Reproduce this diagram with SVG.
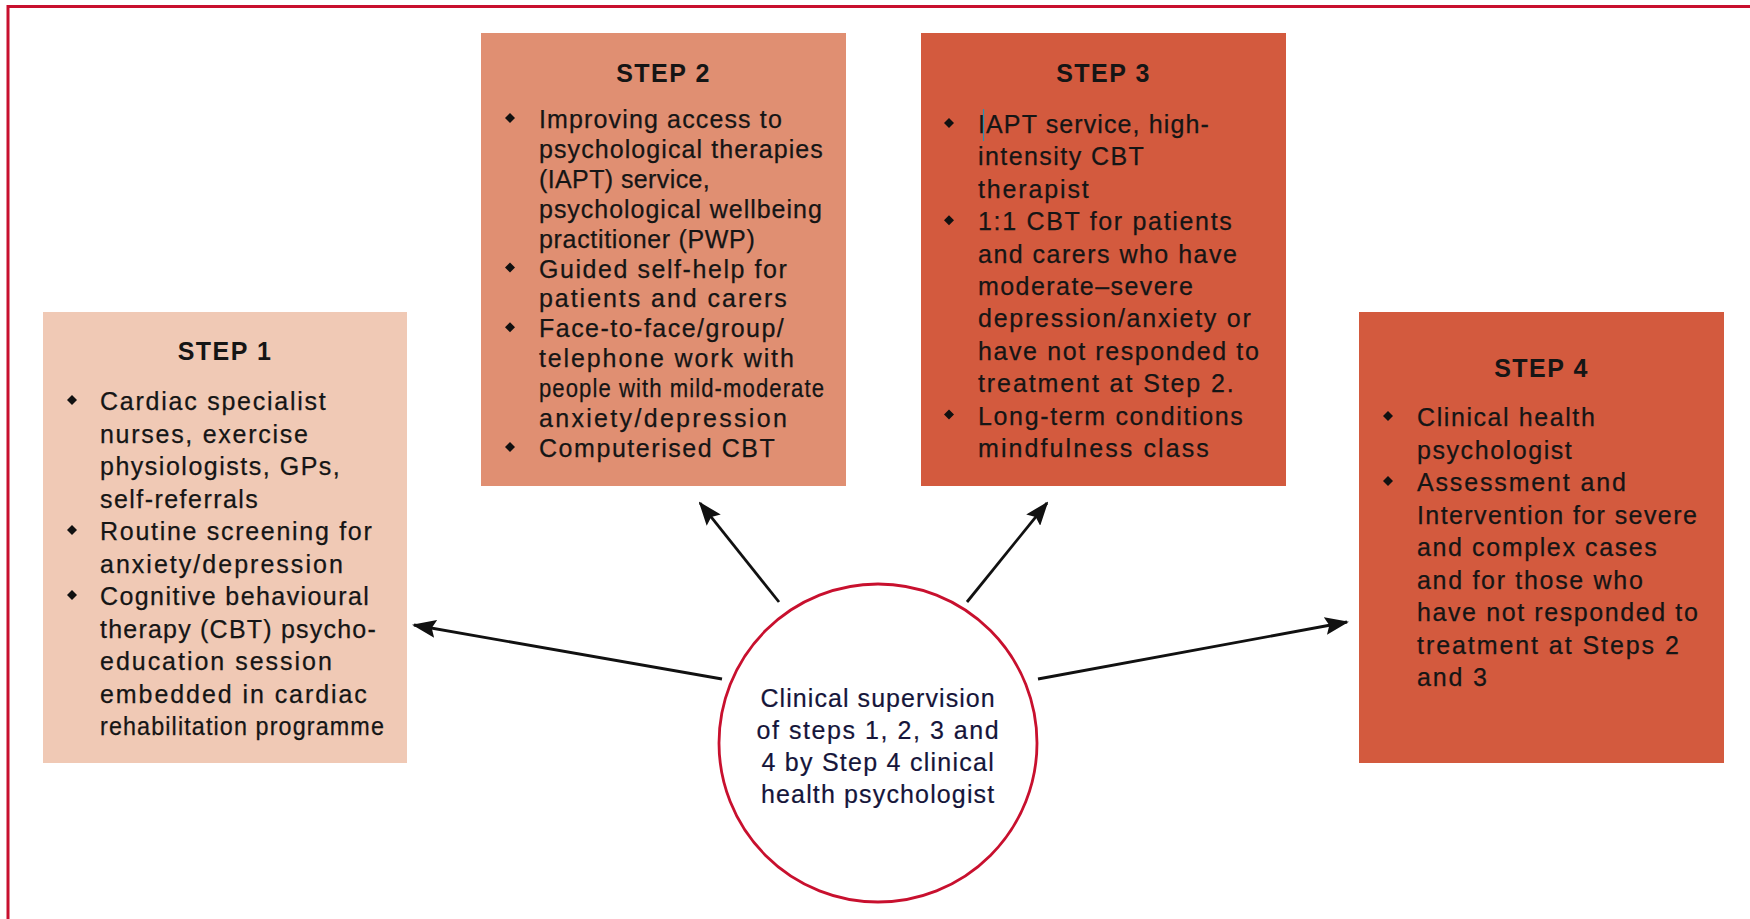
<svg xmlns="http://www.w3.org/2000/svg" width="1750" height="919" viewBox="0 0 1750 919">
<style>
.t{font-family:"Liberation Sans",Arial,sans-serif;font-size:25px;letter-spacing:1.2px;fill:#151515;stroke:#151515;stroke-width:0.25}
.h{font-family:"Liberation Sans",Arial,sans-serif;font-size:25px;font-weight:bold;letter-spacing:1.5px;fill:#151515;text-anchor:middle}
.c{font-family:"Liberation Sans",Arial,sans-serif;font-size:25px;letter-spacing:0.8px;fill:#15153a;stroke:#15153a;stroke-width:0.2;text-anchor:middle}
.conn{stroke:#111;stroke-width:2.8;fill:none;marker-end:url(#ah)}
</style>
<defs>
<marker id="ah" markerUnits="userSpaceOnUse" markerWidth="24" markerHeight="18" refX="22" refY="9" orient="auto" viewBox="0 0 24 18">
<path d="M0,0 L24,9 L0,18 L4,9 z" fill="#111"/>
</marker>
<path id="b" d="M0,-5 L5,0 L0,5 L-5,0 z" fill="#111"/>
</defs>
<rect width="1750" height="919" fill="#fff"/>
<g id="frame" stroke="#C8102E" stroke-width="3" fill="none">
<line x1="7" y1="6.5" x2="1750" y2="6.5"/>
<line x1="8" y1="5" x2="8" y2="919"/>
</g>
<g id="connectors">
<line class="conn" x1="779" y1="602" x2="700" y2="503"/>
<line class="conn" x1="967" y1="602" x2="1047" y2="503"/>
<line class="conn" x1="722" y1="679" x2="414" y2="625"/>
<line class="conn" x1="1038" y1="679" x2="1347" y2="622"/>
</g>
<g id="step1">
<rect x="43" y="312" width="364" height="451" fill="#F0C9B5"/>
<text class="h" x="225" y="360">STEP 1</text>
<use href="#b" x="72" y="400"/><use href="#b" x="72" y="530"/><use href="#b" x="72" y="595"/>
<text class="t" x="100" y="410" textLength="227" lengthAdjust="spacing">Cardiac specialist</text>
<text class="t" x="100" y="442.5" textLength="209" lengthAdjust="spacing">nurses, exercise</text>
<text class="t" x="100" y="475" textLength="241" lengthAdjust="spacing">physiologists, GPs,</text>
<text class="t" x="100" y="507.5" textLength="159" lengthAdjust="spacing">self-referrals</text>
<text class="t" x="100" y="540" textLength="273" lengthAdjust="spacing">Routine screening for</text>
<text class="t" x="100" y="572.5" textLength="244" lengthAdjust="spacing">anxiety/depression</text>
<text class="t" x="100" y="605" textLength="270" lengthAdjust="spacing">Cognitive behavioural</text>
<text class="t" x="100" y="637.5" textLength="277" lengthAdjust="spacing">therapy (CBT) psycho-</text>
<text class="t" x="100" y="670" textLength="233" lengthAdjust="spacing">education session</text>
<text class="t" x="100" y="702.5" textLength="268" lengthAdjust="spacing">embedded in cardiac</text>
<text class="t" x="100" y="735" textLength="285" lengthAdjust="spacingAndGlyphs">rehabilitation programme</text>
</g>
<g id="step2">
<rect x="481" y="33" width="365" height="453" fill="#E08F72"/>
<text class="h" x="663.5" y="82">STEP 2</text>
<use href="#b" x="510" y="118"/><use href="#b" x="510" y="267.5"/><use href="#b" x="510" y="327.3"/><use href="#b" x="510" y="447"/>
<text class="t" x="539" y="128" textLength="244" lengthAdjust="spacing">Improving access to</text>
<text class="t" x="539" y="157.9" textLength="285" lengthAdjust="spacing">psychological therapies</text>
<text class="t" x="539" y="187.8" textLength="172" lengthAdjust="spacing">(IAPT) service,</text>
<text class="t" x="539" y="217.7" textLength="284" lengthAdjust="spacing">psychological wellbeing</text>
<text class="t" x="539" y="247.6" textLength="217" lengthAdjust="spacing">practitioner (PWP)</text>
<text class="t" x="539" y="277.5" textLength="249" lengthAdjust="spacing">Guided self-help for</text>
<text class="t" x="539" y="307.4" textLength="249" lengthAdjust="spacing">patients and carers</text>
<text class="t" x="539" y="337.3" textLength="246" lengthAdjust="spacing">Face-to-face/group/</text>
<text class="t" x="539" y="367.2" textLength="256" lengthAdjust="spacing">telephone work with</text>
<text class="t" x="539" y="397.1" textLength="286" lengthAdjust="spacingAndGlyphs">people with mild-moderate</text>
<text class="t" x="539" y="427" textLength="249" lengthAdjust="spacing">anxiety/depression</text>
<text class="t" x="539" y="456.9" textLength="237" lengthAdjust="spacing">Computerised CBT</text>
</g>
<g id="step3">
<rect x="921" y="33" width="365" height="453" fill="#D35A3E"/>
<text class="h" x="1103.5" y="82">STEP 3</text>
<use href="#b" x="949" y="123"/><use href="#b" x="949" y="220.2"/><use href="#b" x="949" y="414.6"/>
<text class="t" x="978" y="133" textLength="232" lengthAdjust="spacing">IAPT service, high-</text>
<text class="t" x="978" y="165.4" textLength="167" lengthAdjust="spacing">intensity CBT</text>
<text class="t" x="978" y="197.8" textLength="112" lengthAdjust="spacing">therapist</text>
<text class="t" x="978" y="230.2" textLength="255" lengthAdjust="spacing">1:1 CBT for patients</text>
<text class="t" x="978" y="262.6" textLength="260" lengthAdjust="spacing">and carers who have</text>
<text class="t" x="978" y="295" textLength="216" lengthAdjust="spacing">moderate–severe</text>
<text class="t" x="978" y="327.4" textLength="274" lengthAdjust="spacing">depression/anxiety or</text>
<text class="t" x="978" y="359.8" textLength="282" lengthAdjust="spacing">have not responded to</text>
<text class="t" x="978" y="392.2" textLength="257" lengthAdjust="spacing">treatment at Step 2.</text>
<text class="t" x="978" y="424.6" textLength="266" lengthAdjust="spacing">Long-term conditions</text>
<text class="t" x="978" y="457" textLength="232" lengthAdjust="spacing">mindfulness class</text>
<line x1="983.5" y1="109" x2="983.5" y2="141" stroke="#2a8fb0" stroke-width="1.2"/>
</g>
<g id="step4">
<rect x="1359" y="312" width="365" height="451" fill="#D35A3E"/>
<text class="h" x="1541.5" y="377">STEP 4</text>
<use href="#b" x="1388" y="416"/><use href="#b" x="1388" y="481"/>
<text class="t" x="1417" y="426" textLength="179" lengthAdjust="spacing">Clinical health</text>
<text class="t" x="1417" y="458.5" textLength="156" lengthAdjust="spacing">psychologist</text>
<text class="t" x="1417" y="491" textLength="210" lengthAdjust="spacing">Assessment and</text>
<text class="t" x="1417" y="523.5" textLength="281" lengthAdjust="spacing">Intervention for severe</text>
<text class="t" x="1417" y="556" textLength="241" lengthAdjust="spacing">and complex cases</text>
<text class="t" x="1417" y="588.5" textLength="227" lengthAdjust="spacing">and for those who</text>
<text class="t" x="1417" y="621" textLength="282" lengthAdjust="spacing">have not responded to</text>
<text class="t" x="1417" y="653.5" textLength="263" lengthAdjust="spacing">treatment at Steps 2</text>
<text class="t" x="1417" y="686" textLength="71" lengthAdjust="spacing">and 3</text>
</g>
<g id="supervision">
<circle cx="878" cy="743" r="159" fill="#fff" stroke="#C8102E" stroke-width="2.8"/>
<text class="c" x="878" y="706.5" textLength="235" lengthAdjust="spacing">Clinical supervision</text>
<text class="c" x="878" y="738.5" textLength="243" lengthAdjust="spacing">of steps 1, 2, 3 and</text>
<text class="c" x="878" y="770.5" textLength="233" lengthAdjust="spacing">4 by Step 4 clinical</text>
<text class="c" x="878" y="802.5" textLength="234" lengthAdjust="spacing">health psychologist</text>
</g>
</svg>
